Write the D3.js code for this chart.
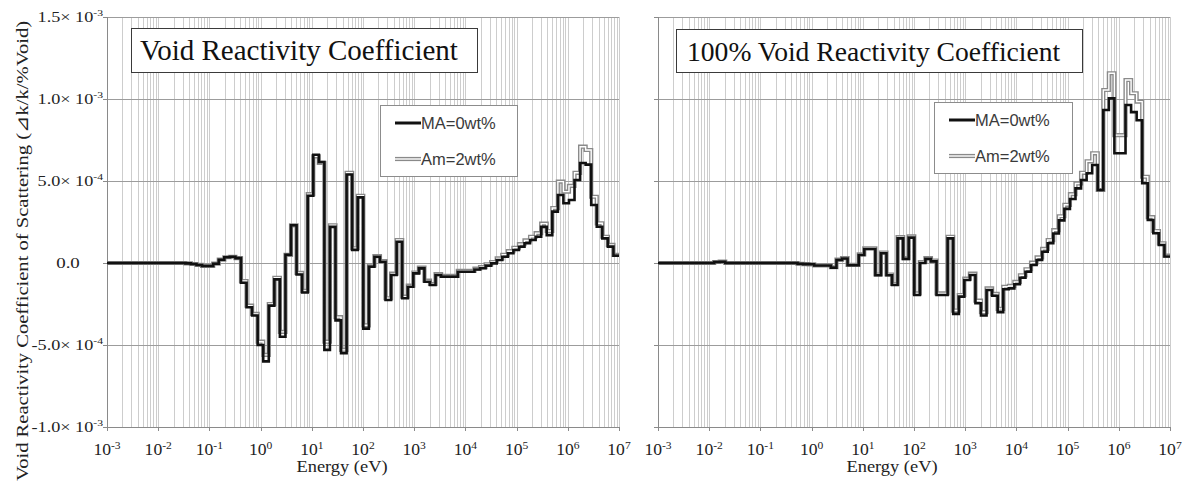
<!DOCTYPE html>
<html>
<head>
<meta charset="utf-8">
<script src="https://cdn.jsdelivr.net/npm/d3@7"></script>
<style>
  body { margin: 0; background: #fff; }
  svg { display: block; }
  .serif { font-family: "Liberation Serif", "Times New Roman", serif; }
  .sans { font-family: "Liberation Sans", Arial, sans-serif; }
</style>
</head>
<body>
<svg id="chart" width="1186" height="483"></svg>
<script>
// Energy group boundaries (eV), ascending, 0.25 lethargy width
const groupEdges = [
  0.001, 0.001318, 0.001692, 0.002172, 0.002789, 0.003581, 0.004599, 0.005905, 0.007582, 0.009735,
  0.0125, 0.01605, 0.02061, 0.02646, 0.03398, 0.04363, 0.05602, 0.07193, 0.09236, 0.1186,
  0.1523, 0.1955, 0.2511, 0.3224, 0.4140, 0.5316, 0.6826, 0.8764, 1.125, 1.445,
  1.855, 2.382, 3.059, 3.928, 5.043, 6.476, 8.315, 10.68, 13.71, 17.60,
  22.60, 29.02, 37.27, 47.85, 61.44, 78.89, 101.3, 130.1, 167.0, 214.4,
  275.4, 353.6, 454.0, 582.9, 748.5, 961.1, 1234, 1585, 2035, 2613,
  3355, 4307, 5531, 7102, 9119, 11710, 15030, 19310, 24790, 31830,
  40870, 52480, 67380, 86520, 111100, 142600, 183200, 235200, 302000, 387700,
  497900, 639300, 820800, 1054000, 1353000, 1738000, 2231000, 2865000, 3679000, 4724000,
  6065000, 7788000, 10000000
];

// Group-wise scattering component, in units of 1e-4 dk/k/%void
const voidMA0 = [
  0, 0, 0, 0, 0, 0, 0, 0, 0, 0,
  0, 0, 0, 0, -0.02, -0.06, -0.12, -0.18, -0.18, -0.05,
  0.2, 0.35, 0.38, 0.3, -1.2, -2.7, -3.2, -5.0, -6.0, -2.6,
  -1.0, -4.5, 0.5, 2.3, -0.7, -1.8, 4.1, 6.6, 6.15, -5.3,
  2.2, -3.5, -5.5, 5.4, 0.8, 4.0, -4.0, -0.22, 0.38, 0.08,
  -2.26, -0.73, 1.3, -2.15, -1.45, -0.63, -0.33, -1.14, -1.34, -0.73,
  -0.83, -0.83, -0.83, -0.53, -0.53, -0.53, -0.4, -0.32, -0.16, -0.02,
  0.18, 0.38, 0.59, 0.79, 0.99, 1.2, 1.4, 1.6, 2.2, 1.7,
  3.13, 4.15, 3.64, 3.84, 5.06, 6.1, 6.0, 3.54, 2.21, 1.5,
  1.0, 0.45
];
const voidAm2 = [
  0, 0, 0, 0, 0, 0, 0, 0, 0, 0,
  0, 0, 0, 0, -0.02, -0.06, -0.12, -0.17, -0.17, -0.04,
  0.2, 0.35, 0.38, 0.3, -1.1, -2.6, -3.1, -4.8, -5.6, -2.5,
  -0.9, -4.2, 0.5, 2.3, -0.6, -1.7, 4.2, 6.5, 6.1, -4.8,
  2.3, -3.3, -5.3, 5.5, 0.9, 4.1, -3.8, -0.15, 0.42, 0.12,
  -2.15, -0.65, 1.4, -2.05, -1.38, -0.58, -0.28, -1.08, -1.28, -0.68,
  -0.78, -0.78, -0.78, -0.48, -0.48, -0.48, -0.34, -0.25, -0.08, 0.06,
  0.28, 0.5, 0.72, 0.93, 1.15, 1.38, 1.6, 1.82, 2.4, 1.95,
  3.35, 4.96, 4.35, 4.7, 5.5, 7.09, 6.89, 4.04, 2.42, 1.6,
  1.1, 0.5
];
const full100MA0 = [
  0, 0, 0, 0, 0, 0, 0, 0, 0, 0,
  0.06, 0.08, 0, 0, 0, 0, 0, 0, 0, 0,
  0, 0, 0, 0, 0, -0.05, -0.07, -0.08, -0.15, -0.15,
  -0.15, -0.28, 0.18, 0.27, -0.14, -0.14, 0.49, 0.85, 0.85, -0.75,
  0.59, -0.75, -1.34, 1.5, 0.25, 1.55, -1.95, 0.0, 0.25, 0.1,
  -1.95, -1.95, 1.5, -3.1, -2.05, -1.04, -0.73, -2.45, -3.2, -1.65,
  -2.0, -3.0, -1.6, -1.55, -1.3, -0.9, -0.53, -0.12, 0.18, 0.69,
  1.2, 1.8, 2.6, 3.3, 3.9, 4.55, 5.06, 5.47, 5.98, 4.45,
  9.33, 10.04, 6.69, 6.69, 9.63, 9.2, 8.7, 4.86, 2.62, 1.81,
  1.1, 0.4
];
const full100Am2 = [
  0, 0, 0, 0, 0, 0, 0, 0, 0, 0,
  0.06, 0.08, 0, 0, 0, 0, 0, 0, 0, 0,
  0, 0, 0, 0, 0, -0.05, -0.07, -0.08, -0.14, -0.14,
  -0.14, -0.26, 0.2, 0.3, -0.12, -0.12, 0.52, 0.9, 0.9, -0.7,
  0.64, -0.7, -1.28, 1.58, 0.3, 1.62, -1.85, 0.06, 0.3, 0.15,
  -1.85, -1.85, 1.6, -2.9, -1.95, -0.95, -0.65, -2.3, -3.0, -1.55,
  -1.88, -2.8, -1.45, -1.4, -1.15, -0.75, -0.38, 0.02, 0.34, 0.86,
  1.4, 2.0, 2.85, 3.55, 4.2, 4.85, 5.5, 6.2, 6.69, 4.45,
  10.55, 11.57, 7.8, 7.8, 11.16, 10.35, 9.84, 5.26, 2.8, 1.95,
  1.2, 0.45
];

const seriesNames = ["MA=0wt%", "Am=2wt%"];
const panelTitles = ["Void Reactivity Coefficient", "100% Void Reactivity Coefficient"];
const xTickExponents = [-3, -2, -1, 0, 1, 2, 3, 4, 5, 6, 7];
const yTickValues = [-10, -5, 0, 5, 10, 15];           // in 1e-4 units
const yTickMantissas = ["-1.0", "-5.0", "0.0", "5.0", "1.0", "1.5"];
const yTickExponents = ["-3", "-4", null, "-4", "-3", "-3"];
const yAxisTitle = "Void Reactivity Coefficient of Scattering (\u22BFk/k/%Void)";
const xAxisTitle = "Energy (eV)";

const svg = d3.select("#chart");
const plotTop = 17, plotBottom = 427;
const y = d3.scaleLinear().domain([-10, 15]).range([plotBottom, plotTop]);

const panels = [
  { x0: 107, x1: 619, ma: voidMA0, am: voidAm2, title: panelTitles[0],
    titleBox: [131, 28, 346, 44], titleSize: 29, titleX: 140,
    legend: [380, 105, 137, 71], xTitleX: 342, yLabels: true },
  { x0: 658, x1: 1170, ma: full100MA0, am: full100Am2, title: panelTitles[1],
    titleBox: [676, 29, 406, 43], titleSize: 27.6, titleX: 687,
    legend: [934, 102, 138, 71], xTitleX: 892, yLabels: false }
];

function stepPoints(vals) {
  return groupEdges.map((e, i) => [e, vals[Math.min(i, vals.length - 1)]]);
}

panels.forEach(p => {
  const x = d3.scaleLog().domain([1e-3, 1e7]).range([p.x0, p.x1]);
  const g = svg.append("g");
  const w = p.x1 - p.x0;

  // vertical grid at every minor/major log tick
  const vg = g.append("g")
    .attr("transform", `translate(0,${plotBottom})`)
    .call(d3.axisBottom(x).ticks(20).tickSize(-(plotBottom - plotTop)).tickFormat(""));
  vg.select(".domain").remove();
  vg.selectAll("line").attr("stroke", "#cdcdcd").attr("stroke-width", 1)
    .attr("shape-rendering", "crispEdges");

  // horizontal grid
  const hg = g.append("g")
    .attr("transform", `translate(${p.x0},0)`)
    .call(d3.axisLeft(y).tickValues(yTickValues).tickSize(-w).tickFormat(""));
  hg.select(".domain").remove();
  hg.selectAll("line").attr("stroke", "#9c9c9c").attr("stroke-width", 1)
    .attr("shape-rendering", "crispEdges");

  // axes
  const ya = g.append("g")
    .attr("transform", `translate(${p.x0},0)`)
    .call(d3.axisLeft(y).tickValues(yTickValues).tickSize(4).tickFormat(""));
  ya.selectAll("path,line").attr("stroke", "#8a8a8a").attr("shape-rendering", "crispEdges");
  const xa = g.append("g")
    .attr("transform", `translate(0,${plotBottom})`)
    .call(d3.axisBottom(x).tickValues(xTickExponents.map(e => Math.pow(10, e)))
      .tickSize(4).tickFormat(""));
  xa.selectAll("path,line").attr("stroke", "#8a8a8a").attr("shape-rendering", "crispEdges");

  // x tick labels: 10 with superscript exponent
  xTickExponents.forEach(e => {
    const t = g.append("text").attr("class", "serif")
      .attr("transform", `translate(${x(Math.pow(10, e))},455) scale(1.1,1)`)
      .attr("text-anchor", "middle").attr("font-size", 16).attr("fill", "#222");
    t.append("tspan").text("10");
    t.append("tspan").attr("font-size", 10.5).attr("dy", -6.5).text(String(e));
  });

  // x title
  g.append("text").attr("class", "serif")
    .attr("transform", `translate(${p.xTitleX},472) scale(1.15,1)`)
    .attr("text-anchor", "middle").attr("font-size", 16).attr("fill", "#222")
    .text(xAxisTitle);

  // y tick labels
  if (p.yLabels) {
    yTickValues.forEach((v, i) => {
      const exp = yTickExponents[i];
      if (exp === null) {
        g.append("text").attr("class", "serif")
          .attr("transform", `translate(68,${y(v) + 5}) scale(1.35,1)`)
          .attr("text-anchor", "middle").attr("font-size", 14).attr("fill", "#222")
          .text(yTickMantissas[i]);
      } else {
        const t = g.append("text").attr("class", "serif")
          .attr("transform", `translate(103,${y(v) + 5}) scale(1.3,1)`)
          .attr("text-anchor", "end").attr("font-size", 14).attr("fill", "#222");
        t.append("tspan").text(yTickMantissas[i] + "\u00D7 10");
        t.append("tspan").attr("font-size", 9).attr("dy", -6).text(exp);
      }
    });
  }

  // data: Am (double grey line) under MA (solid black)
  const line = d3.line().x(d => x(d[0])).y(d => y(d[1])).curve(d3.curveStepAfter);
  g.append("path").datum(stepPoints(p.am)).attr("d", line)
    .attr("fill", "none").attr("stroke", "#8a8a8a").attr("stroke-width", 4.2)
    .attr("stroke-linejoin", "miter");
  g.append("path").datum(stepPoints(p.am)).attr("d", line)
    .attr("fill", "none").attr("stroke", "#ffffff").attr("stroke-width", 1.4)
    .attr("stroke-linejoin", "miter");
  g.append("path").datum(stepPoints(p.ma)).attr("d", line)
    .attr("fill", "none").attr("stroke", "#111").attr("stroke-width", 2.6)
    .attr("stroke-linejoin", "miter");

  // title box
  const [bx, by, bw, bh] = p.titleBox;
  g.append("rect").attr("x", bx + 0.5).attr("y", by + 0.5).attr("width", bw).attr("height", bh)
    .attr("fill", "#fff").attr("stroke", "#3a3a3a").attr("stroke-width", 1);
  g.append("text").attr("class", "serif").attr("x", p.titleX).attr("y", by + 32)
    .attr("font-size", p.titleSize).attr("fill", "#111").text(p.title);

  // legend
  const [lx, ly, lw, lh] = p.legend;
  g.append("rect").attr("x", lx + 0.5).attr("y", ly + 0.5).attr("width", lw).attr("height", lh)
    .attr("fill", "#fff").attr("stroke", "#8c8c8c").attr("stroke-width", 1);
  const rowY = [ly + 18, ly + 54];
  g.append("line").attr("x1", lx + 15).attr("x2", lx + 41).attr("y1", rowY[0]).attr("y2", rowY[0])
    .attr("stroke", "#111").attr("stroke-width", 3);
  g.append("line").attr("x1", lx + 15).attr("x2", lx + 41).attr("y1", rowY[1]).attr("y2", rowY[1])
    .attr("stroke", "#8a8a8a").attr("stroke-width", 4.2);
  g.append("line").attr("x1", lx + 15).attr("x2", lx + 41).attr("y1", rowY[1]).attr("y2", rowY[1])
    .attr("stroke", "#fff").attr("stroke-width", 1.4);
  seriesNames.forEach((name, i) => {
    g.append("text").attr("class", "sans").attr("x", lx + 41).attr("y", rowY[i] + 6)
      .attr("font-size", 16.5).attr("fill", "#3a3a3a").text(name);
  });
});

// rotated y-axis title, stretched to span the plot height
const yt = svg.append("text").attr("class", "serif")
  .attr("text-anchor", "middle").attr("font-size", 17).attr("fill", "#222")
  .text(yAxisTitle);
const natural = yt.node().getComputedTextLength();
yt.attr("transform", `translate(28,251) rotate(-90) scale(${460 / natural},1)`);
</script>
</body>
</html>
